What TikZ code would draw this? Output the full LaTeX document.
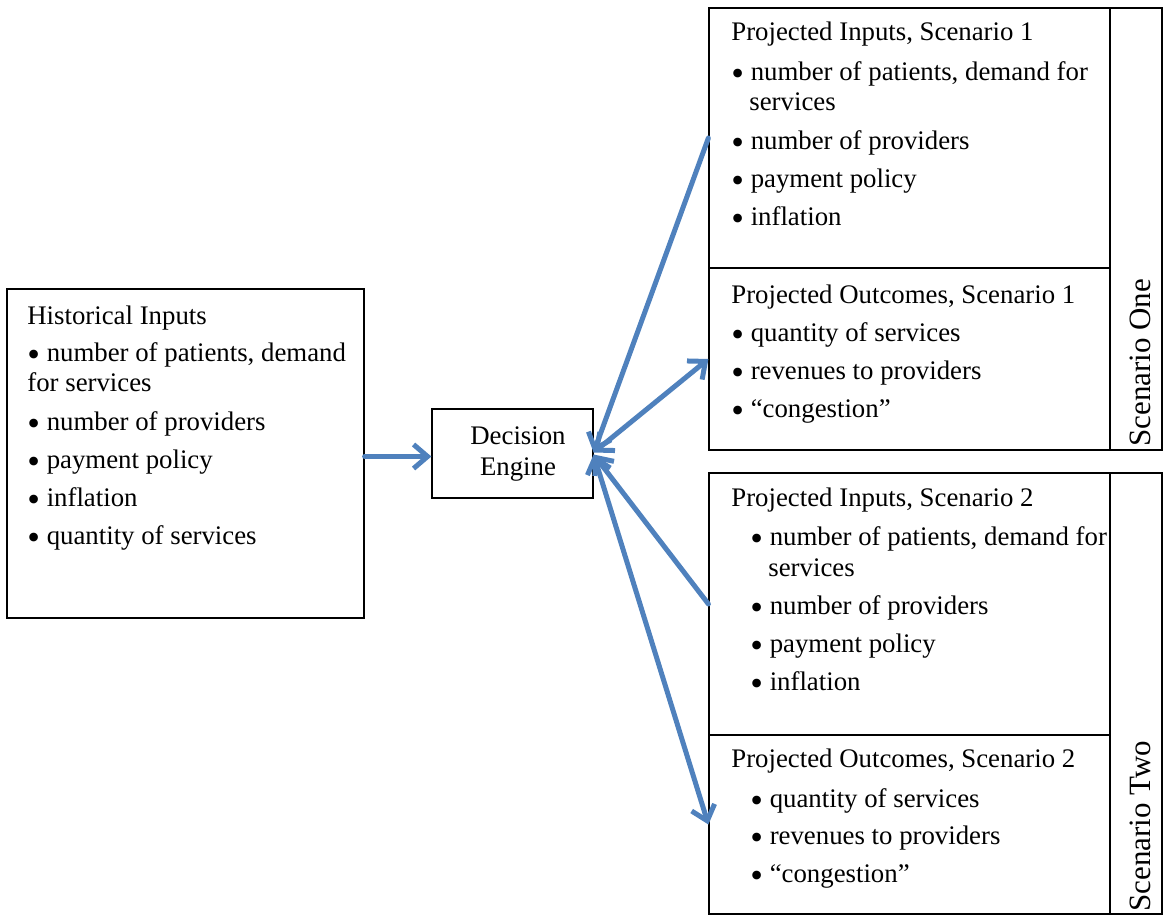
\documentclass[tikz,border=0pt]{standalone}
\usepackage{fontspec}
\setmainfont{Liberation Serif}
\usetikzlibrary{arrows.meta,fit}
\definecolor{arrowblue}{RGB}{79,129,189}
\newcommand\bul{\raisebox{-0.42ex}{\scalebox{1.35}{\textbullet}}\ }
\begin{document}
\begin{tikzpicture}[x=0.5pt,y=-0.5pt,
  box/.style={draw=black, line width=0.6pt, inner sep=0pt},
  txt/.style={anchor=base west, inner sep=0pt, font=\fontsize{13.4}{15}\selectfont},
  ctxt/.style={anchor=base, inner sep=0pt, font=\fontsize{13.4}{15}\selectfont},
  lbl/.style={anchor=base west, inner sep=0pt, rotate=90, font=\fontsize{15.5}{18}\selectfont},
  conn/.style={draw=arrowblue, line width=2.5pt, line cap=round},
  tipend/.style={-{Straight Barb[length=7pt,width=12pt]}},
  tipboth/.style={{Straight Barb[length=7pt,width=12pt]}-{Straight Barb[length=7pt,width=12pt]}}
]
\useasboundingbox (0,0) rectangle (1163,916);

% boxes
\node[box, fit={(7,289) (364,618)}] (hist) {};
\node[box, fit={(432,409) (593,498)}] (de) {};
\node[box, fit={(709,8) (1110,268)}] (s1in) {};
\node[box, fit={(709,268) (1110,450)}] (s1out) {};
\node[box, fit={(1110,8) (1162,450)}] (s1lab) {};
\node[box, fit={(709,473) (1110,735)}] (s2in) {};
\node[box, fit={(709,735) (1110,914)}] (s2out) {};
\node[box, fit={(1110,473) (1162,914)}] (s2lab) {};

% historical inputs
\node[txt] (h0) at (27,324) {Historical Inputs};
\node[txt] (h1) at (27,361) {\bul number of patients, demand};
\node[txt] (h1b) at (27,391) {for services};
\node[txt] (h2) at (27,430) {\bul number of providers};
\node[txt] (h3) at (27,468) {\bul payment policy};
\node[txt] (h4) at (27,506) {\bul inflation};
\node[txt] (h5) at (27,544) {\bul quantity of services};

% decision engine
\node[ctxt] (de1) at (518,444) {Decision};
\node[ctxt] (de2) at (518,475) {Engine};

% scenario 1 inputs
\node[txt] (a0) at (731,40) {Projected Inputs, Scenario 1};
\node[txt] (a1) at (731,80) {\bul number of patients, demand for};
\node[txt] (a1b) at (749,110) {services};
\node[txt] (a2) at (731,149) {\bul number of providers};
\node[txt] (a3) at (731,187) {\bul payment policy};
\node[txt] (a4) at (731,225) {\bul inflation};

% scenario 1 outcomes
\node[txt] (b0) at (731,303) {Projected Outcomes, Scenario 1};
\node[txt] (b1) at (731,341) {\bul quantity of services};
\node[txt] (b2) at (731,379) {\bul revenues to providers};
\node[txt] (b3) at (731,417) {\bul “congestion”};

% scenario 2 inputs
\node[txt] (c0) at (731,506) {Projected Inputs, Scenario 2};
\node[txt] (c1) at (750,545) {\bul number of patients, demand for};
\node[txt] (c1b) at (768,576) {services};
\node[txt] (c2) at (750,614) {\bul number of providers};
\node[txt] (c3) at (750,652) {\bul payment policy};
\node[txt] (c4) at (750,690) {\bul inflation};

% scenario 2 outcomes
\node[txt] (d0) at (731,767) {Projected Outcomes, Scenario 2};
\node[txt] (d1) at (750,807) {\bul quantity of services};
\node[txt] (d2) at (750,844) {\bul revenues to providers};
\node[txt] (d3) at (750,882) {\bul “congestion”};

% scenario labels
\node[lbl] (l1) at (1150,447) {Scenario One};
\node[lbl] (l2) at (1150,912) {Scenario Two};

% connectors
\draw[conn, tipend] ([yshift=-1.5pt]hist.east) -- ([yshift=-1.5pt]de.west);
\draw[conn, tipend] (s1in.west) -- ([yshift=0.5pt]de.east);
\draw[conn, tipboth] ([yshift=0.5pt]de.east) -- (s1out.west);
\draw[conn, tipend] (s2in.west) -- ([yshift=-0.5pt]de.east);
\draw[conn, tipboth] ([yshift=-0.5pt]de.east) -- (s2out.west);
\end{tikzpicture}
\end{document}
